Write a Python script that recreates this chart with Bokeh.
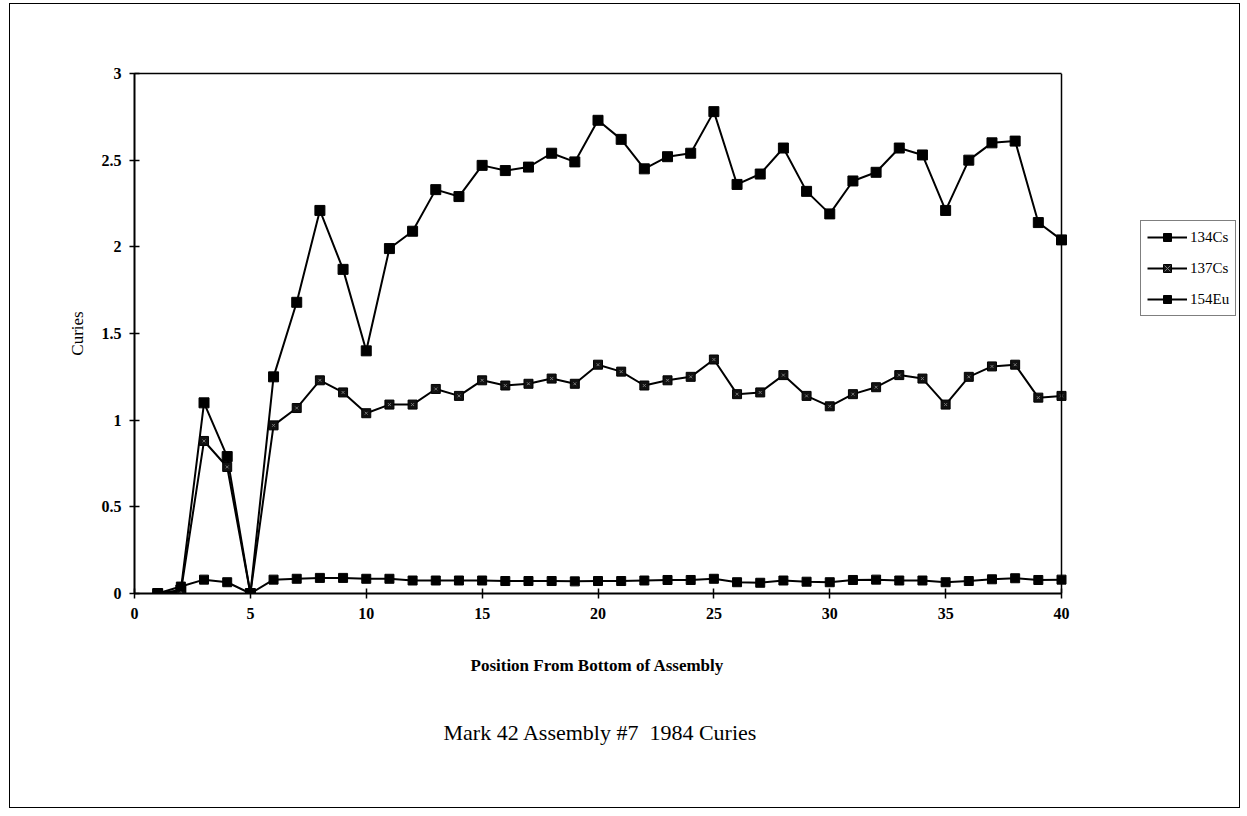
from bokeh.plotting import figure
from bokeh.models import (Range1d, Legend, LegendItem, Title, FixedTicker, LinearAxis,
                          Span, InlineStyleSheet)
from bokeh.embed import file_html
from bokeh.resources import INLINE

positions = list(range(1, 41))
cs134 = [0, 0.02, 1.10, 0.79, 0, 1.25, 1.68, 2.21, 1.87, 1.40, 1.99, 2.09, 2.33, 2.29,
         2.47, 2.44, 2.46, 2.54, 2.49, 2.73, 2.62, 2.45, 2.52, 2.54, 2.78, 2.36, 2.42,
         2.57, 2.32, 2.19, 2.38, 2.43, 2.57, 2.53, 2.21, 2.50, 2.60, 2.61, 2.14, 2.04]
cs137 = [0, 0.01, 0.88, 0.73, 0, 0.97, 1.07, 1.23, 1.16, 1.04, 1.09, 1.09, 1.18, 1.14,
         1.23, 1.20, 1.21, 1.24, 1.21, 1.32, 1.28, 1.20, 1.23, 1.25, 1.35, 1.15, 1.16,
         1.26, 1.14, 1.08, 1.15, 1.19, 1.26, 1.24, 1.09, 1.25, 1.31, 1.32, 1.13, 1.14]
eu154 = [0, 0.04, 0.08, 0.065, 0, 0.08, 0.085, 0.09, 0.09, 0.085, 0.085, 0.075, 0.075,
         0.075, 0.075, 0.072, 0.072, 0.072, 0.07, 0.072, 0.072, 0.075, 0.078, 0.078,
         0.085, 0.065, 0.062, 0.075, 0.068, 0.065, 0.078, 0.08, 0.075, 0.075, 0.065,
         0.072, 0.082, 0.088, 0.078, 0.08]

series_names = ["134Cs", "137Cs", "154Eu"]
x_ticks = [0, 5, 10, 15, 20, 25, 30, 35, 40]
y_ticks = [0, 0.5, 1, 1.5, 2, 2.5, 3]
y_tick_labels = ["0", "0.5", "1", "1.5", "2", "2.5", "3"]
x_title = "Position From Bottom of Assembly"
y_title = "Curies"
chart_title = "Mark 42 Assembly #7\u00a0 1984 Curies"

FONT = "Liberation Serif"
X_MAX = 40
# frame spans to the right edge so the legend (beside the plot box) is not clipped
FRAME_LEFT, PLOT_RIGHT, FRAME_RIGHT = 134, 1061, 1242
x_end = X_MAX * (FRAME_RIGHT - FRAME_LEFT) / (PLOT_RIGHT - FRAME_LEFT)

p = figure(width=1247, height=816, output_backend="svg", toolbar_location=None,
           x_range=Range1d(0, x_end), y_range=Range1d(0, 3),
           min_border_left=FRAME_LEFT, min_border_right=1247 - FRAME_RIGHT,
           min_border_top=73, min_border_bottom=223)
p.xgrid.visible = False
p.ygrid.visible = False
p.outline_line_color = None
p.background_fill_color = "white"
p.border_fill_color = "white"
p.stylesheets = [InlineStyleSheet(css=""":host::after {
  content: ""; position: absolute; left: 9px; top: 3px; width: 1231px; height: 805px;
  border: 1.5px solid black; pointer-events: none; z-index: 50; box-sizing: border-box;
}""")]

for ax in (p.xaxis[0], p.yaxis[0]):
    ax.axis_line_color = "black"
    ax.axis_line_width = 2
    ax.major_tick_line_color = "black"
    ax.major_tick_line_width = 1.5
    ax.major_tick_in = 5
    ax.major_tick_out = 5
    ax.minor_tick_line_color = None
    ax.major_label_text_font = FONT
    ax.major_label_text_font_style = "bold"
    ax.major_label_text_font_size = "16px"
    ax.major_label_text_color = "black"
    ax.axis_label_text_font = FONT
    ax.axis_label_text_font_style = "normal"
    ax.axis_label_text_color = "black"

p.xaxis.bounds = (0, X_MAX)
p.xaxis.ticker = FixedTicker(ticks=x_ticks)
p.yaxis.ticker = FixedTicker(ticks=y_ticks)
p.yaxis.major_label_overrides = {t: l for t, l in zip(y_ticks, y_tick_labels)}
p.xaxis.major_label_standoff = 9
p.yaxis.major_label_standoff = 8
p.yaxis.axis_label = y_title
p.yaxis.axis_label_text_font_size = "17px"
p.yaxis.axis_label_standoff = 12

# top border of the plot box
top_axis = LinearAxis(bounds=(0, X_MAX), ticker=FixedTicker(ticks=[]),
                      major_label_text_font_size="0px", axis_line_color="black",
                      axis_line_width=1.5, major_tick_line_color=None,
                      minor_tick_line_color=None)
p.add_layout(top_axis, "above")
# right border of the plot box
p.add_layout(Span(location=X_MAX, dimension="height", line_color="black", line_width=1.5))

# 134Cs
l1 = p.line(positions, cs134, line_color="black", line_width=2)
m1 = p.scatter(positions, cs134, marker="square", size=10, fill_color="black", line_color="black")
# 137Cs
l2 = p.line(positions, cs137, line_color="black", line_width=2)
m2 = p.scatter(positions, cs137, marker="square", size=9, fill_color="#111111", line_color="black")
m2b = p.scatter(positions, cs137, marker="x", size=4, line_color="#7a7a7a", line_width=1)
# 154Eu
l3 = p.line(positions, eu154, line_color="black", line_width=2)
m3 = p.scatter(positions, eu154, marker="square", size=9, fill_color="black", line_color="black")

items = [LegendItem(label=series_names[0], renderers=[l1, m1]),
         LegendItem(label=series_names[1], renderers=[l2, m2, m2b]),
         LegendItem(label=series_names[2], renderers=[l3, m3])]
legend = Legend(items=items, location=(1006, 277), orientation="vertical")
legend.border_line_color = "black"
legend.border_line_width = 1.5
legend.background_fill_color = "white"
legend.background_fill_alpha = 1
legend.label_text_font = FONT
legend.label_text_font_size = "15px"
legend.label_text_color = "black"
legend.glyph_width = 40
legend.glyph_height = 20
legend.label_height = 20
legend.spacing = 11
legend.padding = 6
legend.margin = 0
legend.label_standoff = 3
p.add_layout(legend, "center")

# x-axis title and chart title, centred under the plot box (not under the whole frame)
xt = Title(text=x_title, align="left", offset=470 - FRAME_LEFT, text_font=FONT,
           text_font_size="17px", text_font_style="bold", text_color="black", standoff=64)
p.add_layout(xt, "below")
t = Title(text=chart_title, align="left", offset=443 - FRAME_LEFT, text_font=FONT,
          text_font_size="22px", text_font_style="normal", text_color="black", standoff=22)
p.add_layout(t, "below")

open("out.html", "w").write(file_html(p, INLINE))
